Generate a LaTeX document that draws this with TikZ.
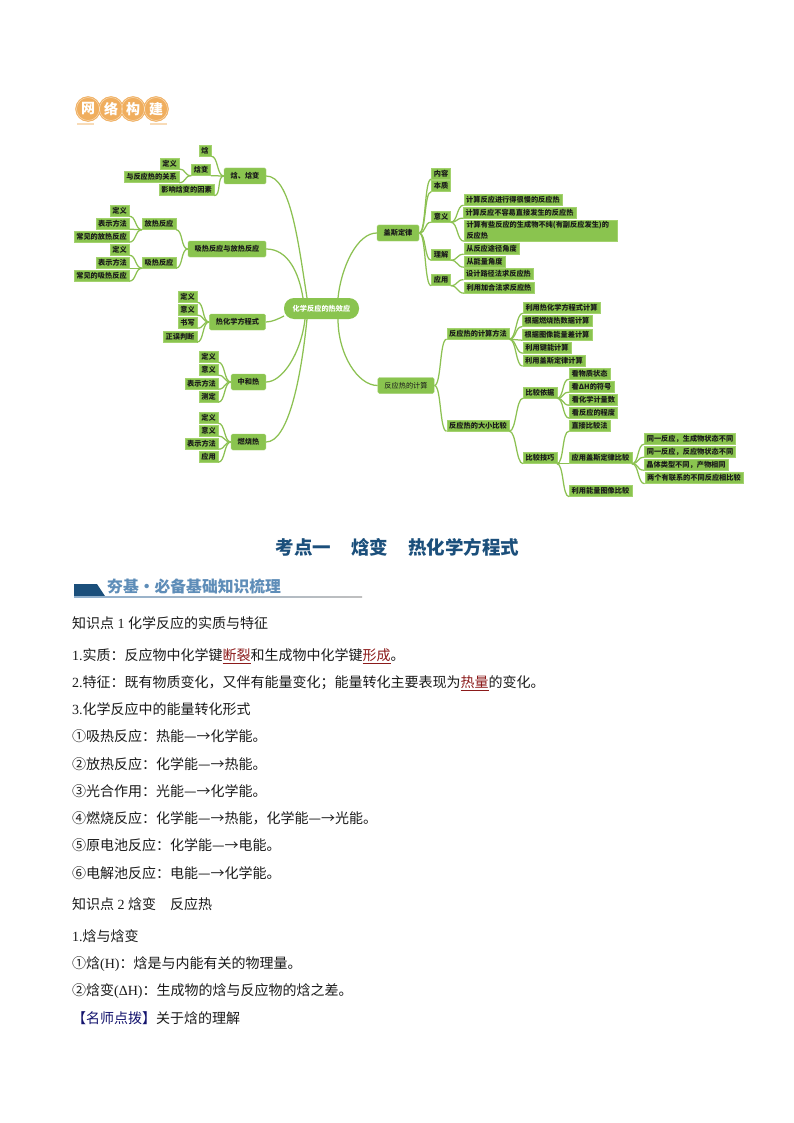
\documentclass[tikz,border=0pt]{standalone}
\usepackage{fontspec}
\setmainfont{Noto Sans CJK SC}
\newfontfamily\latinfont{Liberation Serif}
\usetikzlibrary{shadings}
\definecolor{vert}{HTML}{8AC44F}
\definecolor{vertbord}{HTML}{A3D26E}
\definecolor{lienvert}{HTML}{8CC152}
\definecolor{orange}{HTML}{F0AE5E}
\definecolor{bleutitre}{HTML}{1B4F7B}
\definecolor{bleuclair}{HTML}{5E8DB8}
\definecolor{rouge}{HTML}{8B1A1A}
\definecolor{encre}{HTML}{1A1A1A}
\definecolor{marine}{HTML}{14146E}
\newcommand{\rg}[1]{\textcolor{rouge}{\underline{#1}}}
\begin{document}
\begin{tikzpicture}[x=1pt,y=-1pt]
		\tikzset{feuille/.style={draw=vertbord, fill=vert, text=encre, font=\fontsize{7.2}{8.8}\selectfont\bfseries, inner xsep=2.4pt, inner ysep=0pt, minimum height=11pt}}
		\tikzset{branche/.style={feuille, rounded corners=1.5pt, inner xsep=6.6pt, minimum height=16pt}}
		\tikzset{lien/.style={draw=lienvert, line width=1.25pt}}
		\tikzset{rond/.style={circle, fill=orange, draw=orange, minimum size=25pt, inner sep=0pt, text=white, font=\fontsize{14}{14}\selectfont\bfseries}}
		\tikzset{barre/.style={fill=orange!45, draw=none, minimum width=17pt, minimum height=2pt, inner sep=0pt}}
		\tikzset{ligne/.style={anchor=west, inner sep=0pt, text=encre, font=\fontsize{14}{14}\selectfont}}
		\useasboundingbox (0,0) rectangle (794,1123);
		\fill[white] (0,0) rectangle (794,1123);

		% logo
		\node[rond] (wang) at (88,109) {网};
		\node[rond] (luo) at (111,109) {络};
		\node[rond] (gou) at (133,109) {构};
		\node[rond] (jian) at (156,109) {建};
		\draw[orange!40, line width=0.4pt] (wang) circle (11.5pt) (luo) circle (11.5pt) (gou) circle (11.5pt) (jian) circle (11.5pt);
		\node[barre] (barreA) at (85.5,124) {};
		\node[barre] (barreB) at (158,124) {};

		% centre
		\node[feuille, draw=none, rounded corners=10pt, text=white, minimum width=75pt, minimum height=21pt] (hub) at (321.5,308.5) {化学反应的热效应};
		\coordinate (hubA) at (307,298);
		\coordinate (hubB) at (303,298);
		\coordinate (hubC) at (284,316);
		\coordinate (hubD) at (305,319);
		\coordinate (hubE) at (307,319);
		\coordinate (hubF) at (338,298);
		\coordinate (hubG) at (338,319);

		% gauche
		\node[branche] (H) at (245,176) {焓、焓变};
		\node[feuille] (Ha) at (205,150.5) {焓};
		\node[feuille] (Hb) at (201,170) {焓变};
		\node[feuille] (Hc) at (186.5,190) {影响焓变的因素};
		\node[feuille] (Hd) at (169.5,163.5) {定义};
		\node[feuille] (He) at (151.5,177) {与反应热的关系};

		\node[branche] (X) at (227,249) {吸热反应与放热反应};
		\node[feuille] (Xa) at (159,224) {放热反应};
		\node[feuille] (Xb) at (159,262.5) {吸热反应};
		\node[feuille] (Xc) at (119.5,210.5) {定义};
		\node[feuille] (Xd) at (112.5,223.5) {表示方法};
		\node[feuille] (Xe) at (101.5,236.5) {常见的放热反应};
		\node[feuille] (Xf) at (119.5,249.5) {定义};
		\node[feuille] (Xg) at (112.5,262.5) {表示方法};
		\node[feuille] (Xh) at (101.5,275.5) {常见的吸热反应};

		\node[branche] (T) at (237.5,322) {热化学方程式};
		\node[feuille] (Ta) at (187.5,296.5) {定义};
		\node[feuille] (Tb) at (187.5,309.5) {意义};
		\node[feuille] (Tc) at (187.5,322.5) {书写};
		\node[feuille] (Td) at (180,336.5) {正误判断};

		\node[branche] (Z) at (248.5,382) {中和热};
		\node[feuille] (Za) at (208.5,356.5) {定义};
		\node[feuille] (Zb) at (208.5,369.5) {意义};
		\node[feuille] (Zc) at (201.5,383.5) {表示方法};
		\node[feuille] (Zd) at (208.5,396.5) {测定};

		\node[branche] (R) at (248.5,442) {燃烧热};
		\node[feuille] (Ra) at (208.5,417.5) {定义};
		\node[feuille] (Rb) at (208.5,430.5) {意义};
		\node[feuille] (Rc) at (201.5,443.5) {表示方法};
		\node[feuille] (Rd) at (208.5,456.5) {应用};

		% droite
		\node[branche] (G) at (398,233) {盖斯定律};
		\node[feuille] (Ga) at (441,173.5) {内容};
		\node[feuille] (Gb) at (441,186) {本质};
		\node[feuille] (Gc) at (441,216.5) {意义};
		\node[feuille] (Gd) at (441,254.5) {理解};
		\node[feuille] (Ge) at (441,280) {应用};
		\node[feuille] (Gf) at (513,199.5) {计算反应进行得很慢的反应热};
		\node[feuille] (Gg) at (519.5,212.5) {计算反应不容易直接发生的反应热};
		\node[feuille, align=left, text width=148pt, minimum height=21pt] (Gh) at (540.5,230.5) {计算有些反应的生成物不纯(有副反应发生)的\\[2pt]反应热};
		\node[feuille] (Gi) at (491.5,248.5) {从反应途径角度};
		\node[feuille] (Gj) at (484.5,261.5) {从能量角度};
		\node[feuille] (Gk) at (498.5,274) {设计路径法求反应热};
		\node[feuille] (Gl) at (499,287.5) {利用加合法求反应热};

		\node[branche, font=\fontsize{7.2}{8.8}\selectfont] (C) at (406,385.5) {反应热的计算};
		\node[feuille] (Ca) at (478,333.5) {反应热的计算方法};
		\node[feuille] (Cb) at (478,425.5) {反应热的大小比较};
		\node[feuille] (Cc) at (561.5,307.5) {利用热化学方程式计算};
		\node[feuille] (Cd) at (557,321) {根据燃烧热数据计算};
		\node[feuille] (Ce) at (557,334.5) {根据图像能量差计算};
		\node[feuille] (Cf) at (547,347.5) {利用键能计算};
		\node[feuille] (Cg) at (554,360.5) {利用盖斯定律计算};
		\node[feuille] (Ch) at (540,392.5) {比较依据};
		\node[feuille] (Ci) at (540,458) {比较技巧};
		\node[feuille] (Cj) at (589.5,373.5) {看物质状态};
		\node[feuille] (Ck) at (591.5,386.5) {看ΔH的符号};
		\node[feuille] (Cl) at (593.5,399.5) {看化学计量数};
		\node[feuille] (Cm) at (593.5,412.5) {看反应的程度};
		\node[feuille] (Cn) at (589.5,425.5) {直接比较法};
		\node[feuille] (Co) at (600.5,458) {应用盖斯定律比较};
		\node[feuille] (Cp) at (600.5,491) {利用能量图像比较};
		\node[feuille] (Cq) at (690,438.5) {同一反应，生成物状态不同};
		\node[feuille] (Cr) at (690,451.5) {同一反应，反应物状态不同};
		\node[feuille] (Cs) at (686,464.5) {晶体类型不同，产物相同};
		\node[feuille] (Ct) at (694,478) {两个有联系的不同反应相比较};

		% liens
		\draw[lien] (H.east) .. controls +(24,0) and +(-9,-58) .. (hubA);
		\draw[lien] (X.east) .. controls +(22,0) and +(-4,-25) .. (hubB);
		\draw[lien] (T.east) .. controls +(6,0) and +(-6,3) .. (hubC);
		\draw[lien] (Z.east) .. controls +(16,0) and +(-4,35) .. (hubD);
		\draw[lien] (R.east) .. controls +(22,0) and +(-6,60) .. (hubE);
		\draw[lien] (G.west) .. controls +(-20,0) and +(3,-30) .. (hubF);
		\draw[lien] (C.west) .. controls +(-20,0) and +(0,35) .. (hubG);

		\foreach \p/\c in {H/Ha,H/Hb,H/Hc,X/Xa,X/Xb,T/Ta,T/Tb,T/Tc,T/Td,Z/Za,Z/Zb,Z/Zc,Z/Zd,R/Ra,R/Rb,R/Rc,R/Rd}
			\draw[lien] (\p.west) .. controls +(-7,0) and +(7,0) .. (\c.south east);
		\foreach \p/\c in {Hb/Hd,Hb/He,Xa/Xc,Xa/Xd,Xa/Xe,Xb/Xf,Xb/Xg,Xb/Xh}
			\draw[lien] (\p.south west) .. controls +(-7,0) and +(7,0) .. (\c.south east);
		\foreach \p/\c in {G/Ga,G/Gb,G/Gc,G/Gd,G/Ge,C/Ca,C/Cb}
			\draw[lien] (\p.east) .. controls +(7,0) and +(-7,0) .. (\c.south west);
		\foreach \p/\c in {Gc/Gf,Gc/Gg,Gc/Gh,Gd/Gi,Gd/Gj,Ge/Gk,Ge/Gl,Ca/Cc,Ca/Cd,Ca/Ce,Ca/Cf,Ca/Cg,Cb/Ch,Cb/Ci,Ch/Cj,Ch/Ck,Ch/Cl,Ch/Cm,Ci/Cn,Ci/Co,Ci/Cp,Co/Cq,Co/Cr,Co/Cs,Co/Ct}
			\draw[lien] (\p.south east) .. controls +(7,0) and +(-7,0) .. (\c.south west);

		% titres
		\node[text=bleutitre, font=\fontsize{18.5}{18.5}\selectfont\bfseries] (titre) at (397.5,547) {考点一\hspace{20pt}焓变\hspace{20pt}热化学方程式};
		\fill[bleutitre] (74,584) -- (97,584) -- (105,596) -- (74,596) -- cycle;
		\shade[left color=bleuclair!70, right color=gray!50] (74,596) rectangle (362,597);
		\node[anchor=west, inner sep=0pt, text=bleuclair, font=\fontsize{15.8}{16}\selectfont\bfseries] (soustitre) at (107,586) {夯基·必备基础知识梳理};

		% texte
		\node[ligne] (zsA) at (72,623) {知识点{\latinfont\ 1\ }化学反应的实质与特征};
		\node[ligne] (tA) at (72,656) {{\latinfont 1.}实质：反应物中化学键\rg{断裂}和生成物中化学键\rg{形成}。};
		\node[ligne] (tB) at (72,683) {{\latinfont 2.}特征：既有物质变化，又伴有能量变化；能量转化主要表现为\rg{热量}的变化。};
		\node[ligne] (tC) at (72,709) {{\latinfont 3.}化学反应中的能量转化形式};
		\node[ligne] (tD) at (72,736) {①吸热反应：热能—→化学能。};
		\node[ligne] (tE) at (72,764) {②放热反应：化学能—→热能。};
		\node[ligne] (tF) at (72,791) {③光合作用：光能—→化学能。};
		\node[ligne] (tG) at (72,818) {④燃烧反应：化学能—→热能，化学能—→光能。};
		\node[ligne] (tH) at (72,845) {⑤原电池反应：化学能—→电能。};
		\node[ligne] (tI) at (72,873) {⑥电解池反应：电能—→化学能。};
		\node[ligne] (zsB) at (72,904) {知识点{\latinfont\ 2\ }焓变\hspace{14pt}反应热};
		\node[ligne] (tJ) at (72,936) {{\latinfont 1.}焓与焓变};
		\node[ligne] (tK) at (72,964) {①焓{\latinfont (H)}：焓是与内能有关的物理量。};
		\node[ligne] (tL) at (72,991) {②焓变{\latinfont (ΔH)}：生成物的焓与反应物的焓之差。};
		\node[ligne] (tM) at (72,1018) {\textcolor{marine}{【名师点拨】}关于焓的理解};

		\end{tikzpicture}
\end{document}
